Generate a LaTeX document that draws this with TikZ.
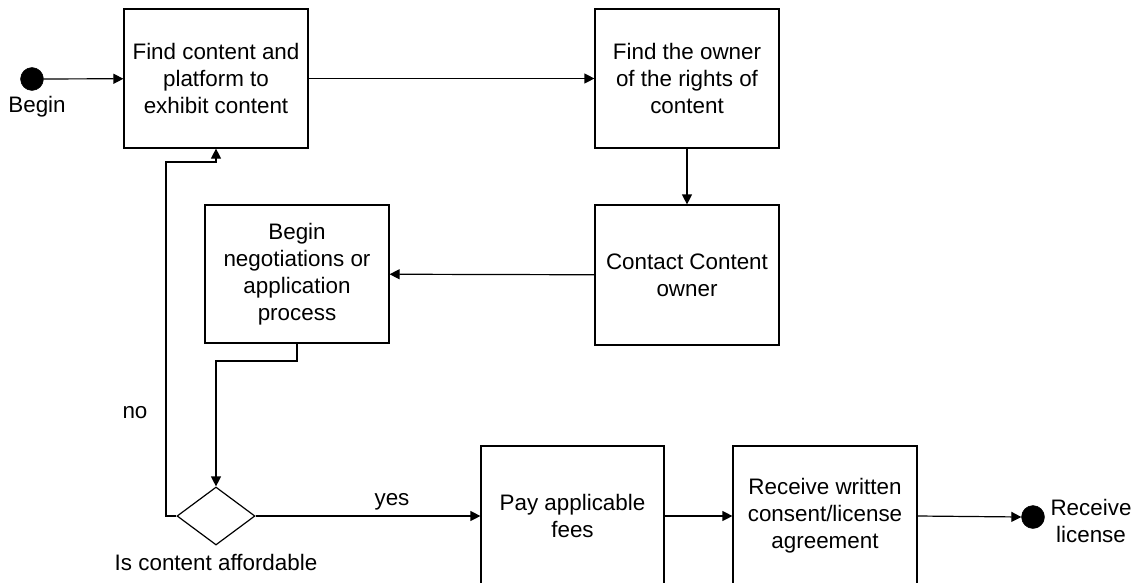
\documentclass[tikz,border=0pt]{standalone}
\usepackage{fontspec}
\setmainfont{Liberation Sans}
\usetikzlibrary{shapes.geometric,arrows.meta}
\begin{document}
\begin{tikzpicture}[x=1pt,y=-1pt,
  every node/.style={font=\fontsize{22.4}{27}\selectfont},
  box/.style={draw,line width=1.2pt,align=center,minimum width=184pt,minimum height=139pt,inner sep=0pt},
  dot/.style={circle,fill=black,draw=black,minimum size=23pt,inner sep=0pt},
  lbl/.style={align=center,inner sep=0pt},
  conn/.style={line width=1.2pt,-{Triangle[length=10pt,width=10pt]}},
  plain/.style={line width=1.2pt}]
\useasboundingbox (0,0) rectangle (1137,583);
\node[box] (b1) at (216,78.5) {Find content and\\platform to\\exhibit content};
\node[box] (b2) at (687,78.5) {Find the owner\\of the rights of\\content};
\node[box,minimum height=140pt] (b3) at (687,275) {Contact Content\\owner};
\node[box,minimum height=138pt] (b4) at (297,274) {Begin\\negotiations or\\application\\process};
\node[box,minimum width=183pt,minimum height=140pt] (b5) at (572.5,516) {Pay applicable\\fees};
\node[box,minimum height=140pt] (b6) at (825,516) {Receive written\\consent/license\\agreement};
\node[diamond,draw,line width=1.2pt,minimum width=78pt,minimum height=58pt,inner sep=0pt] (dia) at (216,516) {};
\node[dot] (beg) at (32,79) {};
\node[dot] (fin) at (1033,517) {};
\node[lbl] (lbeg) at (37,107) {Begin};
\node[lbl] (lno) at (135,413) {no};
\node[lbl] (lyes) at (392,502) {yes};
\node[lbl] (laff) at (216,562) {Is content affordable};
\node[lbl] (lfin) at (1091,521) {Receive\\license};
\coordinate (n1) at (166,516);
\coordinate (n2) at (166,162);
\coordinate (d1) at (297,361);
\draw[conn] (beg) -- (b1);
\draw[conn] (b1) -- (b2);
\draw[conn] (b2) -- (b3);
\draw[conn] (b3) -- (b4);
\draw[conn] (b4.south) -- (d1) -| (dia.north);
\draw[conn] (dia.east) -- (b5.west);
\draw[conn] (b5) -- (b6);
\draw[conn] (b6.east) -- (fin.west);
\draw[conn] (dia.west) -- (n1) -- (n2) -| (b1.south);
\end{tikzpicture}
\end{document}
